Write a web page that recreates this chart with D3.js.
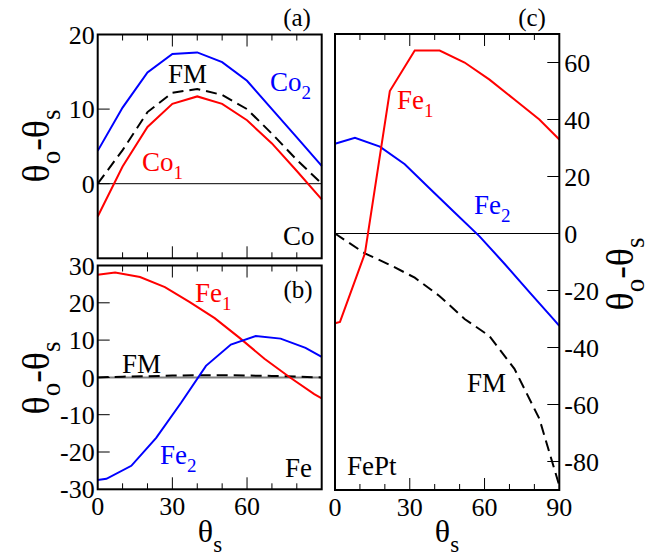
<!DOCTYPE html>
<html>
<head>
<meta charset="utf-8">
<script src="https://cdn.jsdelivr.net/npm/d3@7/dist/d3.min.js"></script>
<style>
  body { margin: 0; background: #fff; }
  svg { display: block; }
  text { font-family: 'Liberation Serif', 'Times New Roman', Times, 'DejaVu Serif', serif; }
</style>
</head>
<body>
<svg id="chart" width="657" height="559"></svg>
<script>
// ---- data (theta_s in degrees, theta_o - theta_s) ----
var coAngles = [0, 10, 20, 30, 40, 50, 60, 70, 80, 90];
var co1 = [-4.4, 2.3, 7.6, 10.7, 11.7, 10.7, 8.5, 5.4, 1.7, -2.1];
var co2 = [4.4, 10.2, 14.9, 17.4, 17.6, 16.3, 13.8, 10.0, 6.2, 2.4];
var coFM = [0, 4.5, 9.6, 12.2, 12.7, 11.9, 10.0, 6.7, 3.2, 0];

var fe1Angles = [0, 7, 17, 27, 37, 47, 57, 67, 77, 87, 90];
var fe1 = [27.5, 28.1, 26.9, 24.2, 20.2, 15.9, 10.6, 5.0, 0.1, -4.5, -5.6];
var fe2Angles = [0, 3.5, 13.5, 23.5, 33.5, 43.5, 53.5, 63.5, 73.5, 83.5, 90];
var fe2 = [-27.5, -27.2, -23.7, -16.2, -6.8, 3.1, 8.8, 11.1, 10.4, 7.9, 5.5];
var feFM = [0, 0.2, 0.3, 0.5, 0.6, 0.6, 0.5, 0.4, 0.2, 0];

var fept1Angles = [0, 2, 12, 22, 32, 42, 52, 62, 72, 82, 90];
var fept1 = [-31.5, -31, -7, 50, 64.2, 64.2, 60, 54, 47, 40, 33];
var fept2Angles = [0, 8, 18, 28, 38, 48, 58, 68, 78, 88, 90];
var fept2 = [31.5, 33.6, 30.5, 24.3, 15.8, 7.4, -1.0, -10.6, -20.6, -30.4, -32.4];
var feptFMAngles = [0, 12, 22, 32, 42, 52, 62, 72, 82, 90];
var feptFM = [0, -7, -11, -15.5, -22, -30, -36, -47.5, -65, -88.5];

var RED = "#ff0000", BLUE = "#0000ff", BLACK = "#000000";
var FONT = "'Liberation Serif', 'Times New Roman', Times, 'DejaVu Serif', serif";

var svg = d3.select("#chart").attr("font-family", FONT);
svg.append("rect").attr("width", 657).attr("height", 559).attr("fill", "#fff");

// helper: text with subscripts; parts = [[text, isSub], ...]
function richText(g, x, y, parts, size, color, anchor, transform) {
  var t = g.append("text")
    .attr("x", x).attr("y", y)
    .attr("fill", color)
    .attr("font-family", FONT)
    .attr("font-size", size)
    .attr("text-anchor", anchor || "start");
  if (transform) t.attr("transform", transform);
  var shift = Math.round(size * 0.3);
  var down = false;
  parts.forEach(function (p) {
    var s = t.append("tspan").text(p[0]);
    if (p[1]) {
      s.attr("font-size", Math.round(size * 0.72));
      if (!down) { s.attr("dy", shift); down = true; }
    } else if (down) {
      s.attr("dy", -shift); down = false;
    }
  });
  return t;
}

function plainText(x, y, str, size, anchor) {
  return svg.append("text").attr("x", x).attr("y", y)
    .attr("font-family", FONT).attr("font-size", size)
    .attr("text-anchor", anchor || "start").text(str);
}

// builds one panel: frame, ticks, zero line and curves
function panel(cfg) {
  var x = d3.scaleLinear().domain([0, 90]).range([cfg.left, cfg.right]);
  var y = d3.scaleLinear().domain(cfg.yDomain).range([cfg.bottom, cfg.top]);
  var g = svg.append("g");

  // zero line
  g.append("line")
    .attr("x1", x(0)).attr("x2", x(90))
    .attr("y1", y(0)).attr("y2", y(0))
    .attr("stroke", cfg.zeroColor || BLACK)
    .attr("stroke-width", cfg.zeroWidth || 1);

  var line = d3.line().x(function (d) { return x(d[0]); }).y(function (d) { return y(d[1]); });
  cfg.series.forEach(function (s) {
    g.append("path")
      .datum(d3.zip(s.x, s.y))
      .attr("d", line)
      .attr("fill", "none")
      .attr("stroke", s.color)
      .attr("stroke-width", 2)
      .attr("stroke-dasharray", s.dash ? "11,6" : null);
  });

  // x ticks inward on top and bottom
  d3.range(10, 90, 10).forEach(function (v) {
    var len = v % 30 === 0 ? 12 : 6;
    g.append("line").attr("x1", x(v)).attr("x2", x(v))
      .attr("y1", cfg.top).attr("y2", cfg.top + len)
      .attr("stroke", BLACK).attr("stroke-width", 1);
    g.append("line").attr("x1", x(v)).attr("x2", x(v))
      .attr("y1", cfg.bottom).attr("y2", cfg.bottom - len)
      .attr("stroke", BLACK).attr("stroke-width", 1);
  });
  if (cfg.xLabels) {
    cfg.xLabels.forEach(function (v) {
      g.append("text").attr("x", x(v)).attr("y", cfg.bottom + 26)
        .attr("font-family", FONT)
        .attr("text-anchor", "middle").attr("font-size", 26).text(v);
    });
  }

  // y ticks on one side
  var side = cfg.yAxisSide;
  var ax = side === "left" ? cfg.left : cfg.right;
  var dir = side === "left" ? 1 : -1;
  cfg.yTicks.forEach(function (v) {
    g.append("line").attr("x1", ax).attr("x2", ax + dir * 12)
      .attr("y1", y(v)).attr("y2", y(v))
      .attr("stroke", BLACK).attr("stroke-width", 1);
  });
  cfg.yLabels.forEach(function (v) {
    g.append("text")
      .attr("x", side === "left" ? ax - 3 : ax + 5)
      .attr("y", y(v))
      .attr("dy", "0.35em")
      .attr("font-family", FONT)
      .attr("text-anchor", side === "left" ? "end" : "start")
      .attr("font-size", 26)
      .text(v < 0 ? "-" + Math.abs(v) : v);
  });

  // frame
  g.append("rect")
    .attr("x", cfg.left).attr("y", cfg.top)
    .attr("width", cfg.right - cfg.left).attr("height", cfg.bottom - cfg.top)
    .attr("fill", "none").attr("stroke", BLACK).attr("stroke-width", 2);

  return { g: g, x: x, y: y };
}

// (a) Co
panel({
  left: 97.7, right: 321.7, top: 34.5, bottom: 258.3,
  yDomain: [-10, 20], yAxisSide: "left",
  yTicks: [0, 10], yLabels: [20, 10, 0],
  series: [
    { x: coAngles, y: co2, color: BLUE },
    { x: coAngles, y: coFM, color: BLACK, dash: true },
    { x: coAngles, y: co1, color: RED }
  ]
});

// (b) Fe
panel({
  left: 97.7, right: 321.7, top: 265.5, bottom: 489.3,
  yDomain: [-30, 30], yAxisSide: "left",
  yTicks: [-20, -10, 0, 10, 20], yLabels: [30, 20, 10, 0, -10, -20, -30],
  xLabels: [0, 30, 60],
  zeroColor: "#808080", zeroWidth: 2,
  series: [
    { x: coAngles, y: feFM, color: BLACK, dash: true },
    { x: fe1Angles, y: fe1, color: RED },
    { x: fe2Angles, y: fe2, color: BLUE }
  ]
});

// (c) FePt
panel({
  left: 335, right: 559.3, top: 34, bottom: 490,
  yDomain: [-90, 70], yAxisSide: "right",
  yTicks: [-80, -60, -40, -20, 0, 20, 40, 60], yLabels: [60, 40, 20, 0, -20, -40, -60, -80],
  xLabels: [0, 30, 60, 90],
  series: [
    { x: feptFMAngles, y: feptFM, color: BLACK, dash: true },
    { x: fept2Angles, y: fept2, color: BLUE },
    { x: fept1Angles, y: fept1, color: RED }
  ]
});

// panel tags and curve labels
plainText(297, 26, "(a)", 25, "middle");
plainText(298, 298, "(b)", 25, "middle");
plainText(532, 26, "(c)", 25, "middle");

plainText(168, 83, "FM", 27);
richText(svg, 270, 91, [["Co", false], ["2", true]], 27, BLUE);
richText(svg, 142, 171, [["Co", false], ["1", true]], 27, RED);
plainText(283, 245, "Co", 27);

richText(svg, 195, 302, [["Fe", false], ["1", true]], 27, RED);
plainText(122, 373, "FM", 27);
richText(svg, 160, 464, [["Fe", false], ["2", true]], 27, BLUE);
plainText(285, 477, "Fe", 27);

richText(svg, 397, 109, [["Fe", false], ["1", true]], 27, RED);
richText(svg, 474, 214, [["Fe", false], ["2", true]], 27, BLUE);
plainText(467, 392, "FM", 27);
plainText(347, 475, "FePt", 27);

// axis titles
var yTitle = [["θ", false], ["o", true], ["-θ", false], ["s", true]];
richText(svg, 0, 0, yTitle, 38, BLACK, "middle", "translate(49,146) rotate(-90)");
richText(svg, 0, 0, yTitle, 38, BLACK, "middle", "translate(49,378) rotate(-90)");
richText(svg, 0, 0, yTitle, 38, BLACK, "middle", "translate(633,274) rotate(-90)");
richText(svg, 210, 542, [["θ", false], ["s", true]], 32, BLACK, "middle");
richText(svg, 447, 542, [["θ", false], ["s", true]], 32, BLACK, "middle");
</script>
</body>
</html>
